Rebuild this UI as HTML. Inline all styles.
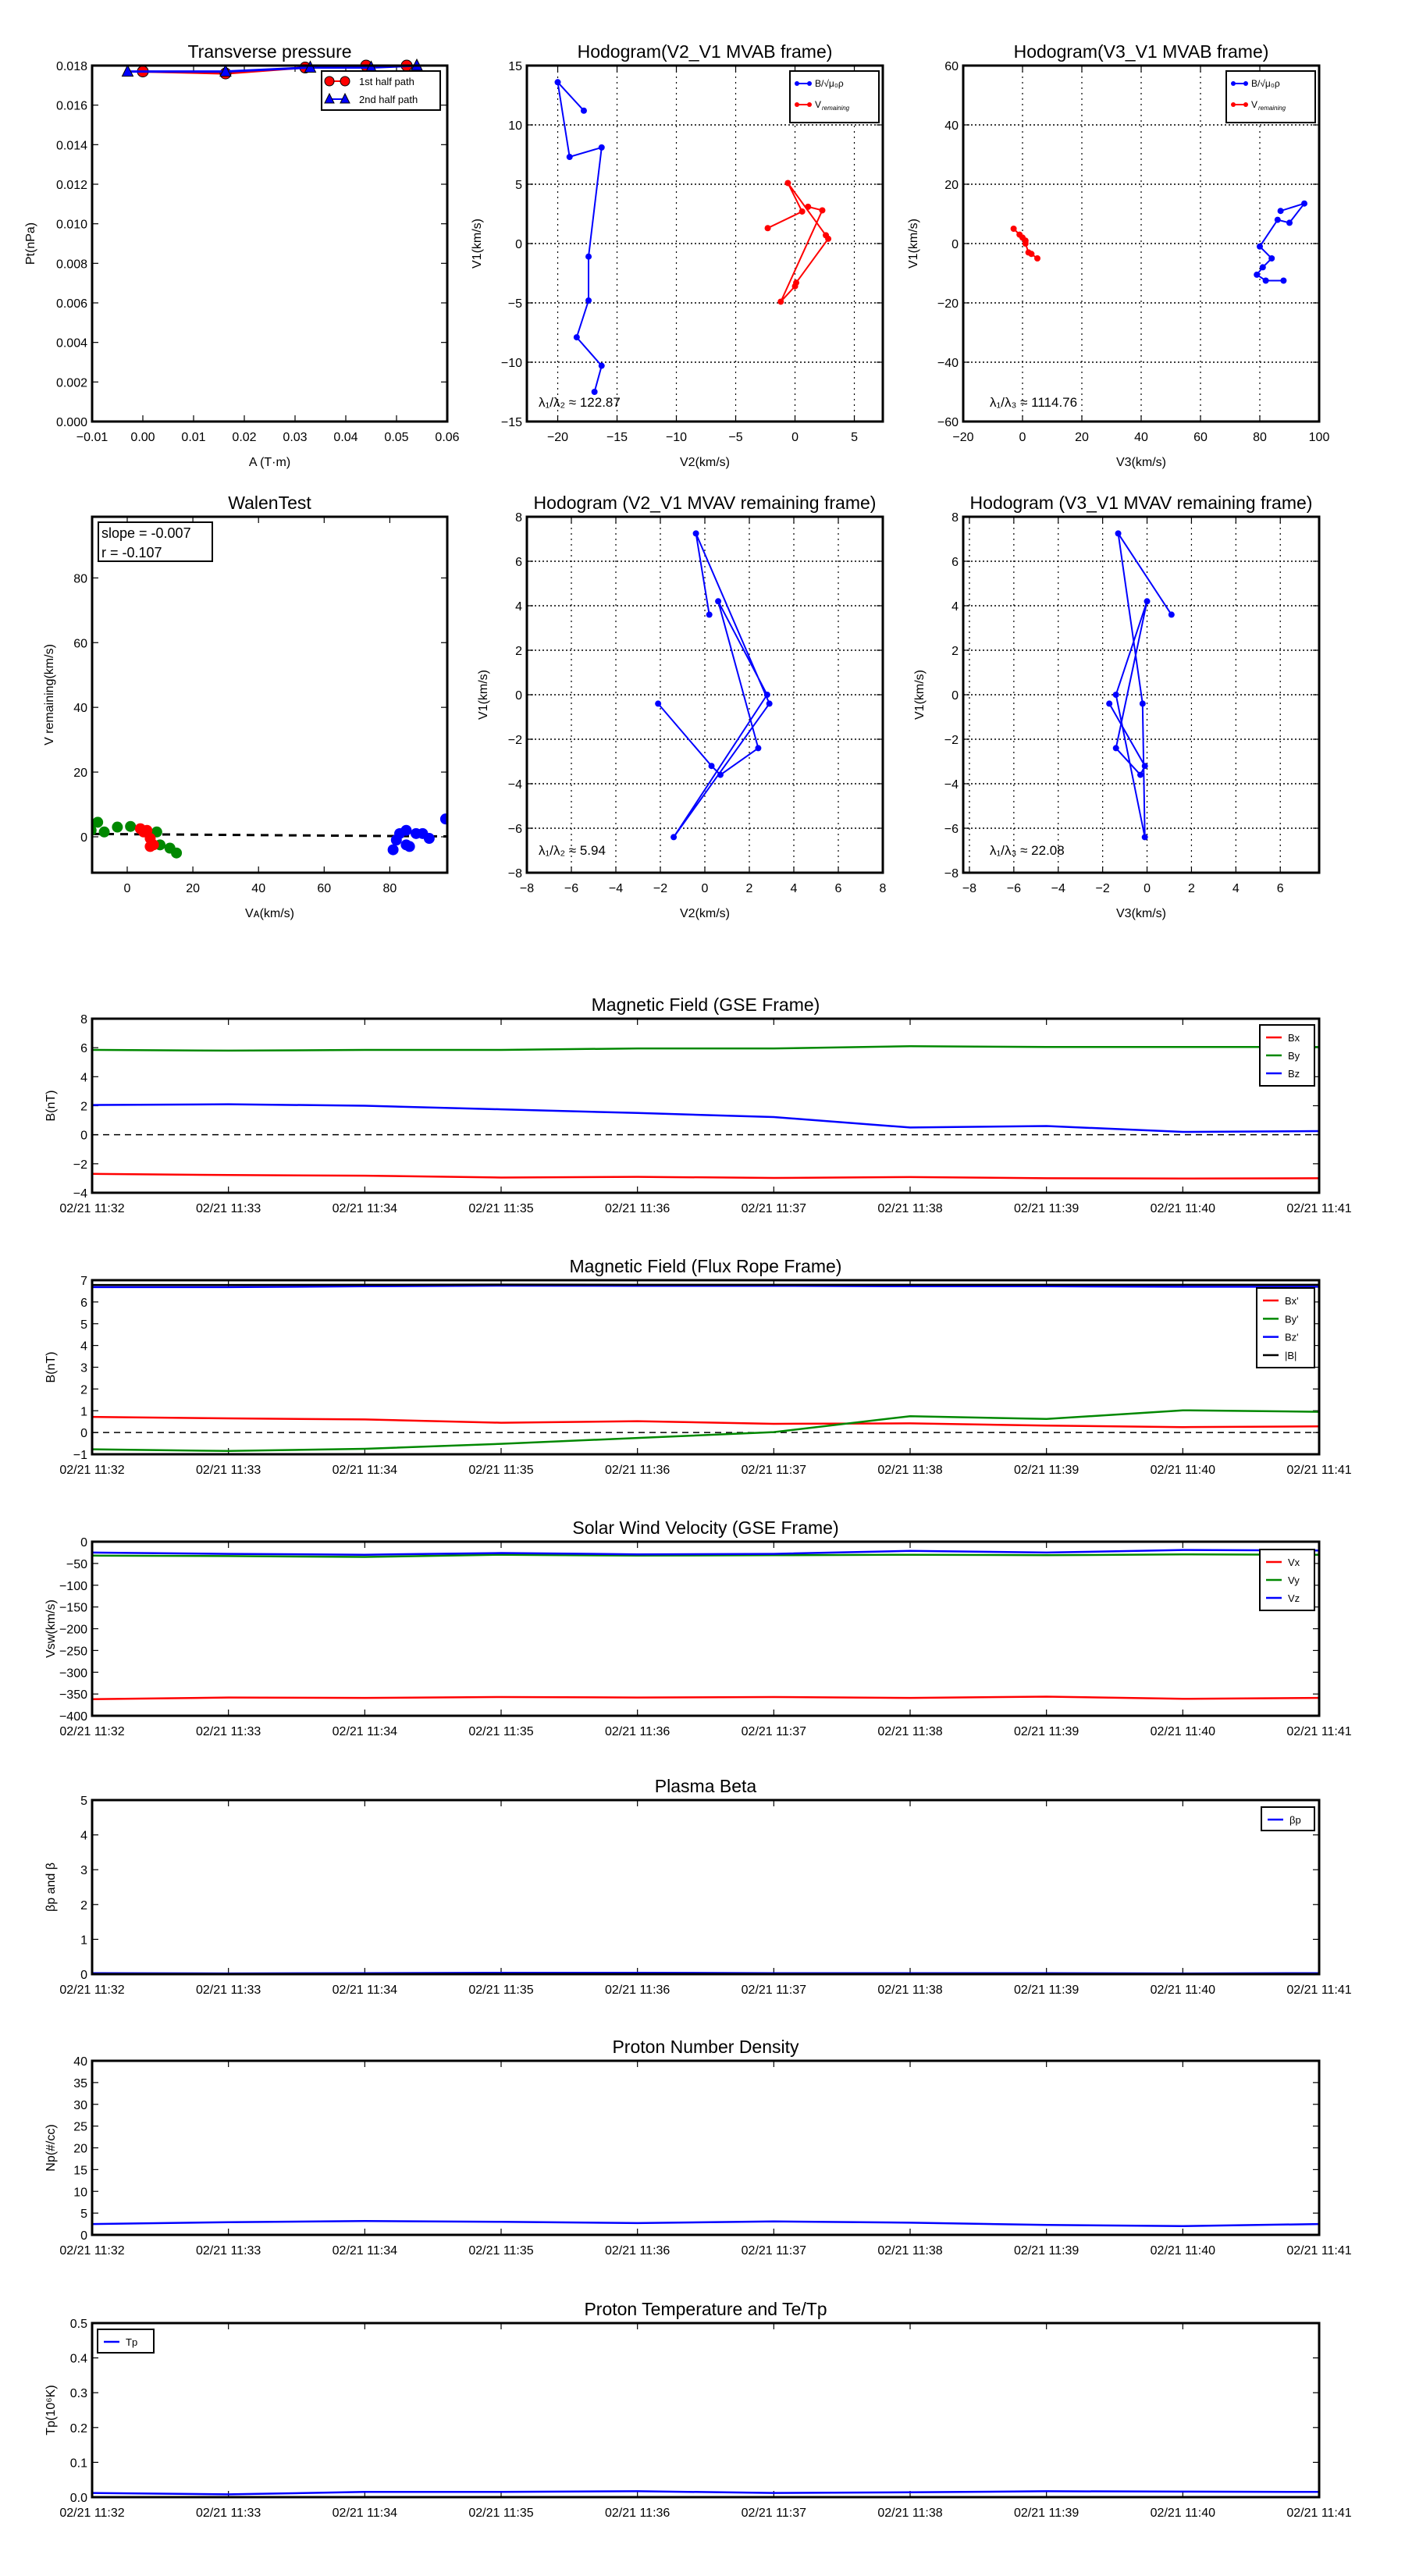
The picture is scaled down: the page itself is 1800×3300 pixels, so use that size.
<!DOCTYPE html>
<html><head><meta charset="utf-8"><style>
html,body{margin:0;padding:0;background:#fff;}
svg{display:block;font-family:"Liberation Sans",sans-serif;}
</style></head><body>
<svg id="fig" width="1800" height="3300" viewBox="0 0 1800 3300" xmlns="http://www.w3.org/2000/svg"></svg>
<script>
// ---------- data ----------
const ptRedA = [0, 0.0163, 0.032, 0.044, 0.052];
const ptRedP = [0.0177, 0.0176, 0.0179, 0.0180, 0.0180];
const ptBlueA = [-0.003, 0.0163, 0.033, 0.045, 0.054];
const ptBlueP = [0.0177, 0.0177, 0.0179, 0.0179, 0.0180];

const h1BlueX = [-17.8, -20, -19, -16.3, -17.4, -17.4, -18.4, -16.3, -16.9];
const h1BlueY = [11.2, 13.6, 7.3, 8.1, -1.1, -4.8, -7.9, -10.3, -12.5];
const h1RedX = [-2.3, 0.6, -0.6, 2.6, 2.8, 0.1, 0, -1.2, 2.3, 1.1];
const h1RedY = [1.3, 2.7, 5.1, 0.7, 0.4, -3.3, -3.6, -4.9, 2.8, 3.1];

const h2BlueX = [87, 95, 90, 86, 80, 84, 81, 79, 82, 88];
const h2BlueY = [11, 13.5, 7, 8, -1, -5, -8, -10.5, -12.5, -12.5];
const h2RedX = [-3, -1, 0, 1, 1, 2, 3, 5];
const h2RedY = [5, 3, 2, 1, 0, -3, -3.5, -5];

const walGreenX = [-11, -9, -7, -3, 1, 9, 10, 13, 15];
const walGreenY = [2, 4.5, 1.5, 3, 3.2, 1.5, -2.5, -3.5, -5];
const walRedX = [4, 5, 6, 7, 8, 7];
const walRedY = [2.5, 1.5, 2, -0.5, -2.5, -3];
const walBlueX = [81, 82, 83, 85, 86, 88, 90, 92, 85, 97];
const walBlueY = [-4, -1, 1, 2, -3, 1, 1, -0.5, -2.5, 5.5];

const m1X = [0.2, -0.4, 2.9, -1.4, 2.8, 0.6, 2.4, 0.7, 0.3, -2.1];
const m1Y = [3.6, 7.25, -0.4, -6.4, 0, 4.2, -2.4, -3.6, -3.2, -0.4];
const m2X = [1.1, -1.3, -0.2, -0.1, -1.4, 0, -1.4, -0.3, -0.1, -1.7];
const m2Y = [3.6, 7.25, -0.4, -6.4, 0, 4.2, -2.4, -3.6, -3.2, -0.4];

const timeLabels = ["02/21 11:32","02/21 11:33","02/21 11:34","02/21 11:35","02/21 11:36","02/21 11:37","02/21 11:38","02/21 11:39","02/21 11:40","02/21 11:41"];
const gseBx = [-2.7, -2.78, -2.82, -2.95, -2.9, -2.98, -2.92, -3.0, -3.02, -3.0];
const gseBy = [5.85, 5.8, 5.85, 5.85, 5.95, 5.95, 6.1, 6.05, 6.05, 6.05];
const gseBz = [2.05, 2.1, 2.0, 1.75, 1.5, 1.22, 0.5, 0.6, 0.2, 0.25];
const frBx = [0.72, 0.65, 0.6, 0.45, 0.52, 0.4, 0.42, 0.32, 0.25, 0.28];
const frBy = [-0.77, -0.85, -0.75, -0.52, -0.25, 0.02, 0.75, 0.62, 1.02, 0.95];
const frBz = [6.68, 6.68, 6.72, 6.75, 6.74, 6.74, 6.72, 6.72, 6.7, 6.7];
const frBt = [6.78, 6.78, 6.79, 6.8, 6.79, 6.79, 6.79, 6.79, 6.79, 6.79];
const vx = [-362, -358, -359, -357, -358, -357, -359, -356, -361, -359];
const vy = [-32, -33, -35, -30, -32, -31, -30, -31, -29, -30];
const vz = [-25, -28, -30, -26, -29, -28, -21, -25, -19, -20];
const betaP = [0.03, 0.02, 0.03, 0.04, 0.04, 0.03, 0.03, 0.03, 0.02, 0.03];
const np = [2.5, 2.9, 3.2, 3.0, 2.7, 3.1, 2.8, 2.3, 2.0, 2.5];
const tp = [0.012, 0.008, 0.015, 0.015, 0.017, 0.012, 0.014, 0.017, 0.016, 0.015];

// ---------- helpers ----------
const NS = "http://www.w3.org/2000/svg";
const svg = document.getElementById("fig");
function mk(tag, attrs, name, parent) {
  const el = document.createElementNS(NS, tag);
  for (const k in attrs) el.setAttribute(k, attrs[k]);
  
  
  (parent || svg).appendChild(el);
  return el;
}
function txt(x, y, s, size, name, anchor, extra) {
  const a = Object.assign({x: x, y: y, "font-size": size, "text-anchor": anchor || "middle", fill: "#000"}, extra || {});
  const t = mk("text", a, name);
  t.textContent = s;
  return t;
}
function scale(d0, d1, r0, r1) { return v => r0 + (v - d0) / (d1 - d0) * (r1 - r0); }

function axes(o) {
  const X = scale(o.xmin, o.xmax, o.x0, o.x1), Y = scale(o.ymin, o.ymax, o.y1, o.y0);
  const g = mk("g", {}, o.name);
  if (o.grid) {
    o.xt.forEach(v => mk("line", {x1: X(v), x2: X(v), y1: o.y0, y2: o.y1, stroke: "#000", "stroke-width": 1.2, "stroke-dasharray": "2,5"}, "x-grid-line", g));
    o.yt.forEach(v => mk("line", {x1: o.x0, x2: o.x1, y1: Y(v), y2: Y(v), stroke: "#000", "stroke-width": 1.5, "stroke-dasharray": "2,3"}, "y-grid-line", g));
  }
  o.xt.forEach((v, i) => {
    mk("line", {x1: X(v), x2: X(v), y1: o.y1, y2: o.y1 - 8, stroke: "#000", "stroke-width": 1.2}, "x-tick", g);
    mk("line", {x1: X(v), x2: X(v), y1: o.y0, y2: o.y0 + 8, stroke: "#000", "stroke-width": 1.2}, "x-tick", g);
    txt(X(v), o.y1 + 25, o.xl ? o.xl[i] : fmt(v, o.xd), 16, "x-tick-label");
  });
  o.yt.forEach((v, i) => {
    mk("line", {x1: o.x0, x2: o.x0 + 8, y1: Y(v), y2: Y(v), stroke: "#000", "stroke-width": 1.2}, "y-tick", g);
    mk("line", {x1: o.x1, x2: o.x1 - 8, y1: Y(v), y2: Y(v), stroke: "#000", "stroke-width": 1.2}, "y-tick", g);
    txt(o.x0 - 6, Y(v) + 6, fmt(v, o.yd), 16, "y-tick-label", "end");
  });
  txt((o.x0 + o.x1) / 2, o.y0 - 10, o.title, 23, "chart-title");
  if (o.xlabel) txt((o.x0 + o.x1) / 2, o.y1 + 57, o.xlabel, 16, "x-axis-title");
  if (o.ylabel) txt(0, 0, o.ylabel, 16, "y-axis-title", "middle", {transform: "translate(" + (o.ylx || o.x0 - 62) + "," + (o.y0 + o.y1) / 2 + ") rotate(-90)"});
  return {X: X, Y: Y, o: o};
}
function border(ax) {
  const o = ax.o;
  mk("rect", {x: o.x0, y: o.y0, width: o.x1 - o.x0, height: o.y1 - o.y0, fill: "none", stroke: "#000", "stroke-width": 3}, "plot-frame");
}
function fmt(v, d) {
  if (d === undefined) return String(v).replace("-", "\u2212");
  return v.toFixed(d).replace("-", "\u2212");
}
function clipFor(ax, id) {
  const o = ax.o;
  const c = mk("clipPath", {id: id}, "clip-region");
  mk("rect", {x: o.x0, y: o.y0, width: o.x1 - o.x0, height: o.y1 - o.y0}, "clip-rect", c);
  return "url(#" + id + ")";
}
function line(ax, xs, ys, color, w, name, clip, dash) {
  const pts = xs.map((x, i) => ax.X(x).toFixed(1) + "," + ax.Y(ys[i]).toFixed(1)).join(" ");
  const a = {points: pts, fill: "none", stroke: color, "stroke-width": w};
  if (clip) a["clip-path"] = clip;
  if (dash) a["stroke-dasharray"] = dash;
  return mk("polyline", a, name);
}
function dots(ax, xs, ys, color, r, name, clip) {
  xs.forEach((x, i) => {
    const a = {cx: ax.X(x), cy: ax.Y(ys[i]), r: r, fill: color, stroke: "none"};
    if (clip) a["clip-path"] = clip;
    mk("circle", a, name);
  });
}
function legend(x, y, w, h, items, fs) {
  mk("rect", {x: x, y: y, width: w, height: h, fill: "#fff", stroke: "#000", "stroke-width": 2}, "legend-box");
  const n = items.length;
  const step = n > 1 ? (h - 32) / (n - 1) : 0;
  items.forEach((it, i) => {
    const cy = y + 16 + i * step;
    mk("line", {x1: x + 8, x2: x + 28, y1: cy, y2: cy, stroke: it[1], "stroke-width": 2.5}, "legend-swatch");
    txt(x + 36, cy + 5, it[0], fs || 13, "legend-entry", "start");
  });
}

// ---------- Transverse pressure ----------
(function () {
  const ax = axes({name: "transverse-pressure-chart", x0: 118, x1: 573, y0: 84, y1: 540, xmin: -0.01, xmax: 0.06, ymin: 0, ymax: 0.018,
    xt: [-0.01, 0, 0.01, 0.02, 0.03, 0.04, 0.05, 0.06], xd: 2, yt: [0, 0.002, 0.004, 0.006, 0.008, 0.010, 0.012, 0.014, 0.016, 0.018], yd: 3,
    title: "Transverse pressure", xlabel: "A (T\u00b7m)", ylabel: "Pt(nPa)", ylx: 44});
  line(ax, ptRedA, ptRedP, "#f00", 3, "first-half-path-line");
  ptRedA.forEach((a, i) => mk("circle", {cx: ax.X(a), cy: ax.Y(ptRedP[i]), r: 7, fill: "#f00", stroke: "#000", "stroke-width": 1}, "first-half-marker"));
  line(ax, ptBlueA, ptBlueP, "#00f", 3, "second-half-path-line");
  ptBlueA.forEach((a, i) => {
    const x = ax.X(a), y = ax.Y(ptBlueP[i]);
    mk("polygon", {points: (x) + "," + (y - 8) + " " + (x - 7) + "," + (y + 6) + " " + (x + 7) + "," + (y + 6), fill: "#00f", stroke: "#000", "stroke-width": 1}, "second-half-marker");
  });
  border(ax);
  mk("rect", {x: 412, y: 91, width: 152, height: 50, fill: "#fff", stroke: "#000", "stroke-width": 2}, "legend-box");
  mk("line", {x1: 420, x2: 442, y1: 104, y2: 104, stroke: "#f00", "stroke-width": 2}, "legend-swatch");
  mk("circle", {cx: 422, cy: 104, r: 6, fill: "#f00", stroke: "#000"}, "legend-swatch");
  mk("circle", {cx: 442, cy: 104, r: 6, fill: "#f00", stroke: "#000"}, "legend-swatch");
  txt(460, 109, "1st half path", 13, "legend-entry", "start");
  mk("line", {x1: 420, x2: 442, y1: 127, y2: 127, stroke: "#00f", "stroke-width": 2}, "legend-swatch");
  mk("polygon", {points: "422,120 416,132 428,132", fill: "#00f", stroke: "#000"}, "legend-swatch");
  mk("polygon", {points: "442,120 436,132 448,132", fill: "#00f", stroke: "#000"}, "legend-swatch");
  txt(460, 132, "2nd half path", 13, "legend-entry", "start");
})();

// ---------- Hodograms ----------
function hodoLegend(x, y) {
  mk("rect", {x: x, y: y, width: 114, height: 66, fill: "#fff", stroke: "#000", "stroke-width": 2}, "legend-box");
  mk("line", {x1: x + 8, x2: x + 26, y1: y + 16, y2: y + 16, stroke: "#00f", "stroke-width": 2}, "legend-swatch");
  mk("circle", {cx: x + 9, cy: y + 16, r: 3, fill: "#00f"}, "legend-swatch");
  mk("circle", {cx: x + 25, cy: y + 16, r: 3, fill: "#00f"}, "legend-swatch");
  txt(x + 32, y + 20, "B/\u221a\u03bc\u2080\u03c1", 12, "legend-entry", "start");
  mk("line", {x1: x + 8, x2: x + 26, y1: y + 43, y2: y + 43, stroke: "#f00", "stroke-width": 2}, "legend-swatch");
  mk("circle", {cx: x + 9, cy: y + 43, r: 3, fill: "#f00"}, "legend-swatch");
  mk("circle", {cx: x + 25, cy: y + 43, r: 3, fill: "#f00"}, "legend-swatch");
  txt(x + 32, y + 47, "V", 12, "legend-entry", "start");
  txt(x + 41, y + 50, "remaining", 8, "legend-entry", "start", {"font-style": "italic"});
}
(function () {
  const ax = axes({name: "hodogram-v2-v1-mvab", x0: 675, x1: 1131, y0: 84, y1: 540, xmin: -22.6, xmax: 7.4, ymin: -15, ymax: 15,
    xt: [-20, -15, -10, -5, 0, 5], yt: [-15, -10, -5, 0, 5, 10, 15], grid: true,
    title: "Hodogram(V2_V1 MVAB frame)", xlabel: "V2(km/s)", ylabel: "V1(km/s)", ylx: 616});
  line(ax, h1BlueX, h1BlueY, "#00f", 2, "b-hodogram-line");
  dots(ax, h1BlueX, h1BlueY, "#00f", 4, "b-hodogram-point");
  line(ax, h1RedX, h1RedY, "#f00", 2, "v-hodogram-line");
  dots(ax, h1RedX, h1RedY, "#f00", 4, "v-hodogram-point");
  border(ax);
  hodoLegend(1012, 91);
  txt(690, 521, "\u03bb\u2081/\u03bb\u2082 \u2248 122.87", 17, "eigenvalue-ratio", "start");
})();
(function () {
  const ax = axes({name: "hodogram-v3-v1-mvab", x0: 1234, x1: 1690, y0: 84, y1: 540, xmin: -20, xmax: 100, ymin: -60, ymax: 60,
    xt: [-20, 0, 20, 40, 60, 80, 100], yt: [-60, -40, -20, 0, 20, 40, 60], grid: true,
    title: "Hodogram(V3_V1 MVAB frame)", xlabel: "V3(km/s)", ylabel: "V1(km/s)", ylx: 1175});
  line(ax, h2BlueX, h2BlueY, "#00f", 2, "b-hodogram-line");
  dots(ax, h2BlueX, h2BlueY, "#00f", 4, "b-hodogram-point");
  line(ax, h2RedX, h2RedY, "#f00", 2, "v-hodogram-line");
  dots(ax, h2RedX, h2RedY, "#f00", 4, "v-hodogram-point");
  border(ax);
  hodoLegend(1571, 91);
  txt(1268, 521, "\u03bb\u2081/\u03bb\u2083 \u2248 1114.76", 17, "eigenvalue-ratio", "start");
})();

// ---------- Walen test ----------
(function () {
  const ax = axes({name: "walen-test-chart", x0: 118, x1: 573, y0: 662, y1: 1118, xmin: -10.7, xmax: 97.5, ymin: -11.1, ymax: 98.9,
    xt: [0, 20, 40, 60, 80], yt: [0, 20, 40, 60, 80],
    title: "WalenTest", xlabel: "V\u1d00(km/s)", ylabel: "V remaining(km/s)", ylx: 68});
  const clip = clipFor(ax, "walclip");
  mk("line", {x1: ax.X(-10.7), y1: ax.Y(0.8 - 0.007 * -10.7), x2: ax.X(97.5), y2: ax.Y(0.8 - 0.007 * 97.5), stroke: "#000", "stroke-width": 3, "stroke-dasharray": "10,8"}, "fit-line");
  dots(ax, walGreenX, walGreenY, "#080", 7, "walen-point-green", clip);
  dots(ax, walRedX, walRedY, "#f00", 7, "walen-point-red", clip);
  dots(ax, walBlueX, walBlueY, "#00f", 7, "walen-point-blue", clip);
  border(ax);
  mk("rect", {x: 126, y: 669, width: 146, height: 50, fill: "#fff", stroke: "#000", "stroke-width": 2}, "stats-box");
  txt(130, 689, "slope = -0.007", 18, "slope-text", "start");
  txt(130, 714, "r = -0.107", 18, "r-text", "start");
})();
(function () {
  const ax = axes({name: "hodogram-v2-v1-mvav", x0: 675, x1: 1131, y0: 662, y1: 1118, xmin: -8, xmax: 8, ymin: -8, ymax: 8,
    xt: [-8, -6, -4, -2, 0, 2, 4, 6, 8], yt: [-8, -6, -4, -2, 0, 2, 4, 6, 8], grid: true,
    title: "Hodogram (V2_V1 MVAV remaining frame)", xlabel: "V2(km/s)", ylabel: "V1(km/s)", ylx: 624});
  line(ax, m1X, m1Y, "#00f", 2, "hodogram-line");
  dots(ax, m1X, m1Y, "#00f", 4, "hodogram-point");
  border(ax);
  txt(690, 1095, "\u03bb\u2081/\u03bb\u2082 \u2248 5.94", 17, "eigenvalue-ratio", "start");
})();
(function () {
  const ax = axes({name: "hodogram-v3-v1-mvav", x0: 1234, x1: 1690, y0: 662, y1: 1118, xmin: -8.28, xmax: 7.75, ymin: -8, ymax: 8,
    xt: [-8, -6, -4, -2, 0, 2, 4, 6], yt: [-8, -6, -4, -2, 0, 2, 4, 6, 8], grid: true,
    title: "Hodogram (V3_V1 MVAV remaining frame)", xlabel: "V3(km/s)", ylabel: "V1(km/s)", ylx: 1183});
  line(ax, m2X, m2Y, "#00f", 2, "hodogram-line");
  dots(ax, m2X, m2Y, "#00f", 4, "hodogram-point");
  border(ax);
  txt(1268, 1095, "\u03bb\u2081/\u03bb\u2083 \u2248 22.08", 17, "eigenvalue-ratio", "start");
})();

// ---------- time series ----------
const tIdx = timeLabels.map((_, i) => i);
function ts(name, y0, ymin, ymax, yt, yd, title, ylabel, series, leg, zero) {
  const ax = axes({name: name, x0: 118, x1: 1690, y0: y0, y1: y0 + 223, xmin: 0, xmax: 9, ymin: ymin, ymax: ymax,
    xt: tIdx, xl: timeLabels, yt: yt, yd: yd, title: title, ylabel: ylabel, ylx: 70});
  const clip = clipFor(ax, name + "-clip");
  if (zero) mk("line", {x1: 118, x2: 1690, y1: ax.Y(0), y2: ax.Y(0), stroke: "#000", "stroke-width": 1.5, "stroke-dasharray": "8,6"}, "zero-line");
  series.forEach(s => line(ax, tIdx, s[0], s[1], 2.5, s[2], clip));
  border(ax);
  if (leg) legend(leg[0], leg[1], leg[2], leg[3], leg[4]);
}
ts("magnetic-field-gse-chart", 1305, -4, 8, [-4, -2, 0, 2, 4, 6, 8], undefined, "Magnetic Field (GSE Frame)", "B(nT)",
  [[gseBx, "#f00", "bx-line"], [gseBy, "#080", "by-line"], [gseBz, "#00f", "bz-line"]],
  [1614, 1313, 70, 78, [["Bx", "#f00"], ["By", "#080"], ["Bz", "#00f"]]], true);
ts("magnetic-field-flux-rope-chart", 1640, -1, 7, [-1, 0, 1, 2, 3, 4, 5, 6, 7], undefined, "Magnetic Field (Flux Rope Frame)", "B(nT)",
  [[frBx, "#f00", "bx-prime-line"], [frBy, "#080", "by-prime-line"], [frBz, "#00f", "bz-prime-line"], [frBt, "#000", "b-magnitude-line"]],
  [1610, 1650, 74, 102, [["Bx'", "#f00"], ["By'", "#080"], ["Bz'", "#00f"], ["|B|", "#000"]]], true);
ts("solar-wind-velocity-chart", 1975, -400, 0, [-400, -350, -300, -250, -200, -150, -100, -50, 0], undefined, "Solar Wind Velocity (GSE Frame)", "Vsw(km/s)",
  [[vx, "#f00", "vx-line"], [vy, "#080", "vy-line"], [vz, "#00f", "vz-line"]],
  [1614, 1985, 70, 78, [["Vx", "#f00"], ["Vy", "#080"], ["Vz", "#00f"]]], false);
ts("plasma-beta-chart", 2306, 0, 5, [0, 1, 2, 3, 4, 5], undefined, "Plasma Beta", "\u03b2p and \u03b2",
  [[betaP, "#00f", "beta-p-line"]], [1616, 2315, 68, 30, [["\u03b2p", "#00f"]]], false);
ts("proton-density-chart", 2640, 0, 40, [0, 5, 10, 15, 20, 25, 30, 35, 40], undefined, "Proton Number Density", "Np(#/cc)",
  [[np, "#00f", "np-line"]], null, false);
ts("proton-temperature-chart", 2976, 0, 0.5, [0, 0.1, 0.2, 0.3, 0.4, 0.5], 1, "Proton Temperature and Te/Tp", "Tp(10\u2076K)",
  [[tp, "#00f", "tp-line"]], [125, 2984, 72, 30, [["Tp", "#00f"]]], false);
</script>
</body></html>
